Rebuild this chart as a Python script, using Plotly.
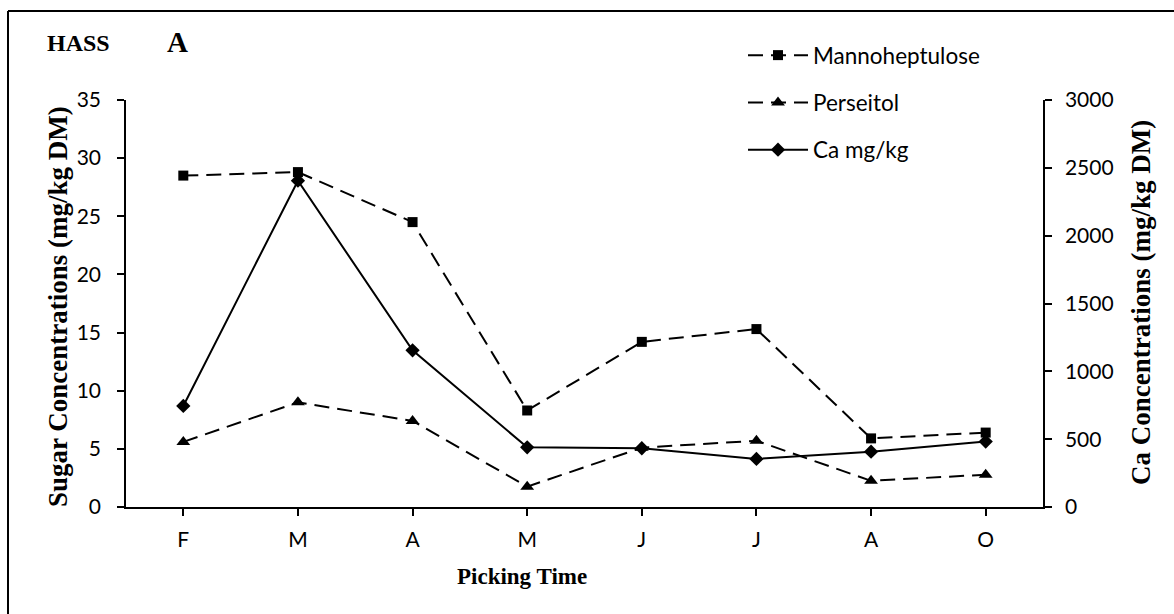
import plotly.graph_objects as go

months = ["F", "M", "A", "M", "J", "J", "A", "O"]
xpos = list(range(len(months)))
mannoheptulose = [28.5, 28.8, 24.5, 8.3, 14.2, 15.3, 5.9, 6.4]
perseitol = [5.6, 9.0, 7.4, 1.75, 5.1, 5.7, 2.25, 2.78]
calcium = [745, 2405, 1155, 440, 433, 354, 408, 482]

sugar_ticks = [0, 5, 10, 15, 20, 25, 30, 35]
ca_ticks = [0, 500, 1000, 1500, 2000, 2500, 3000]

W, H = 1174, 614
L, R, T, B = 126, 1043, 100, 507
pw, ph = R - L, B - T

def px(x):
    return (x - L) / pw

def py(y):
    return (B - y) / ph

tick_font = dict(family="Lato, Open Sans, sans-serif", size=21, color="black")

fig = go.Figure()
fig.add_trace(go.Scatter(
    x=xpos, y=mannoheptulose, name="Mannoheptulose", mode="lines+markers",
    line=dict(color="black", width=2, dash="15px,8px"),
    marker=dict(symbol="square", size=10, color="black"),
    legendgroup="a"))
fig.add_trace(go.Scatter(
    x=xpos, y=perseitol, name="Perseitol", mode="lines+markers",
    line=dict(color="black", width=2, dash="15px,8px"),
    marker=dict(symbol="triangle-up", size=12, color="black"),
    legendgroup="b"))
fig.add_trace(go.Scatter(
    x=xpos, y=calcium, name="Ca mg/kg", mode="lines+markers", yaxis="y2",
    line=dict(color="black", width=2),
    marker=dict(symbol="diamond", size=11, color="black"),
    legendgroup="c"))

axis_common = dict(
    showline=True, linecolor="black", linewidth=1.5,
    ticks="outside", ticklen=7, tickwidth=1.5, tickcolor="black",
    showgrid=False, zeroline=False, tickfont=tick_font)

def note(text, x, y, size, angle=0):
    return dict(text=text, x=px(x), y=py(y), xref="paper", yref="paper",
                xanchor="center", yanchor="middle", showarrow=False,
                textangle=angle,
                font=dict(family="Liberation Serif, Times New Roman, serif",
                          size=size, color="black"))

fig.update_layout(
    width=W, height=H,
    margin=dict(l=L, r=W - R, t=T, b=H - B, pad=0),
    paper_bgcolor="white", plot_bgcolor="white",
    showlegend=True,
    legend=dict(x=px(743), y=1 + (T - 34) / ph, xanchor="left", yanchor="top",
                font=dict(family="Lato, Open Sans, sans-serif", size=22.5, color="black"),
                tracegroupgap=15, bgcolor="rgba(0,0,0,0)", itemwidth=60),
    xaxis=dict(
        range=[-0.5, 7.5], tickmode="array", tickvals=xpos, ticktext=months,
        tickson="boundaries", ticklabelstandoff=6, **axis_common),
    yaxis=dict(
        range=[0, 35], tickmode="array", tickvals=sugar_ticks,
        ticklabelstandoff=12, **axis_common),
    yaxis2=dict(
        range=[0, 3000], tickmode="array", tickvals=ca_ticks,
        overlaying="y", side="right", ticklabelstandoff=9, **axis_common),
    shapes=[
        dict(type="line", xref="paper", yref="paper",
             x0=px(8), x1=px(1174), y0=py(11), y1=py(11),
             line=dict(color="black", width=2)),
        dict(type="line", xref="paper", yref="paper",
             x0=px(8), x1=px(8), y0=py(11), y1=py(614),
             line=dict(color="black", width=2)),
    ],
    annotations=[
        note("<b>HASS</b>", 78, 43, 24),
        note("<b>A</b>", 177, 42, 29),
        note("<b>Sugar Concentrations (mg/kg DM)</b>", 58, 307, 27, -90),
        note("<b>Ca Concentrations (mg/kg DM)</b>", 1141, 303, 27, -90),
        note("<b>Picking Time</b>", 522, 576, 23),
    ],
)

fig.write_html("out.html", config={"displayModeBar": False},
               post_script="document.body.style.margin='0';")
